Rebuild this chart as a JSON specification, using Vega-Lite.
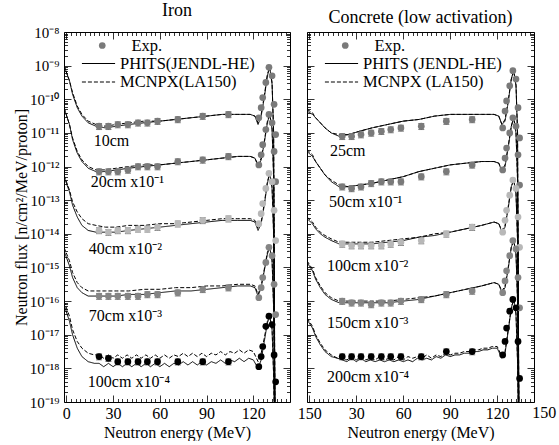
{
"$schema": "https://vega.github.io/schema/vega-lite/v6.json",
"padding": {"left": 12, "top": 1, "right": 2, "bottom": 0},
"config": {
  "font": "Liberation Serif",
  "view": {"stroke": "black", "strokeWidth": 1},
  "axis": {"grid": false, "domain": false, "tickColor": "black", "tickWidth": 0.8, "labelColor": "black", "titleColor": "black", "labelFont": "Liberation Serif", "titleFont": "Liberation Serif", "labelFontSize": 16, "titleFontSize": 16, "titleFontWeight": "normal", "labelOverlap": false, "labelFlush": false, "labelBound": false},
  "legend": {"labelFont": "Liberation Serif", "labelColor": "black", "labelFontSize": 16.5, "padding": 0, "clipHeight": 15, "rowPadding": 1.5},
  "title": {"font": "Liberation Serif", "fontSize": 18, "fontWeight": "normal", "color": "black", "anchor": "middle", "frame": "group", "offset": 5},
  "text": {"font": "Liberation Serif", "fontSize": 16, "color": "black"}
},
"datasets": {
"lines": [
{"panel":"Iron","depth":1,"code":"PHITS","E":-1.5,"flux":1e-9},{"panel":"Iron","depth":1,"code":"PHITS","E":2,"flux":3.55e-10},{"panel":"Iron","depth":1,"code":"PHITS","E":4,"flux":1.41e-10},{"panel":"Iron","depth":1,"code":"PHITS","E":7,"flux":5.62e-11},{"panel":"Iron","depth":1,"code":"PHITS","E":10,"flux":3.16e-11},{"panel":"Iron","depth":1,"code":"PHITS","E":14,"flux":2.0e-11},{"panel":"Iron","depth":1,"code":"PHITS","E":19,"flux":1.58e-11},{"panel":"Iron","depth":1,"code":"PHITS","E":25,"flux":1.41e-11},{"panel":"Iron","depth":1,"code":"PHITS","E":32,"flux":1.58e-11},{"panel":"Iron","depth":1,"code":"PHITS","E":40,"flux":1.78e-11},{"panel":"Iron","depth":1,"code":"PHITS","E":50,"flux":2.0e-11},{"panel":"Iron","depth":1,"code":"PHITS","E":60,"flux":2.24e-11},{"panel":"Iron","depth":1,"code":"PHITS","E":70,"flux":2.51e-11},{"panel":"Iron","depth":1,"code":"PHITS","E":80,"flux":2.82e-11},{"panel":"Iron","depth":1,"code":"PHITS","E":90,"flux":3.16e-11},{"panel":"Iron","depth":1,"code":"PHITS","E":100,"flux":3.55e-11},{"panel":"Iron","depth":1,"code":"PHITS","E":110,"flux":3.55e-11},{"panel":"Iron","depth":1,"code":"PHITS","E":118,"flux":3.55e-11},{"panel":"Iron","depth":1,"code":"PHITS","E":121,"flux":3.16e-11},{"panel":"Iron","depth":1,"code":"PHITS","E":123,"flux":1.78e-11},{"panel":"Iron","depth":1,"code":"PHITS","E":125,"flux":3.16e-11},{"panel":"Iron","depth":1,"code":"PHITS","E":127,"flux":1.12e-10},{"panel":"Iron","depth":1,"code":"PHITS","E":129,"flux":5.01e-10},{"panel":"Iron","depth":1,"code":"PHITS","E":130.5,"flux":8.91e-10},{"panel":"Iron","depth":1,"code":"PHITS","E":132,"flux":2.82e-10},{"panel":"Iron","depth":1,"code":"PHITS","E":133,"flux":1e-11},{"panel":"Iron","depth":1,"code":"PHITS","E":134,"flux":1e-21},
{"panel":"Iron","depth":1,"code":"MCNPX","E":-1.5,"flux":1e-9},{"panel":"Iron","depth":1,"code":"MCNPX","E":2,"flux":3.55e-10},{"panel":"Iron","depth":1,"code":"MCNPX","E":4,"flux":1.58e-10},{"panel":"Iron","depth":1,"code":"MCNPX","E":7,"flux":6.31e-11},{"panel":"Iron","depth":1,"code":"MCNPX","E":10,"flux":3.55e-11},{"panel":"Iron","depth":1,"code":"MCNPX","E":14,"flux":2.24e-11},{"panel":"Iron","depth":1,"code":"MCNPX","E":19,"flux":1.78e-11},{"panel":"Iron","depth":1,"code":"MCNPX","E":25,"flux":1.58e-11},{"panel":"Iron","depth":1,"code":"MCNPX","E":32,"flux":1.78e-11},{"panel":"Iron","depth":1,"code":"MCNPX","E":40,"flux":2.0e-11},{"panel":"Iron","depth":1,"code":"MCNPX","E":50,"flux":2.24e-11},{"panel":"Iron","depth":1,"code":"MCNPX","E":60,"flux":2.24e-11},{"panel":"Iron","depth":1,"code":"MCNPX","E":70,"flux":2.51e-11},{"panel":"Iron","depth":1,"code":"MCNPX","E":80,"flux":2.82e-11},{"panel":"Iron","depth":1,"code":"MCNPX","E":90,"flux":3.16e-11},{"panel":"Iron","depth":1,"code":"MCNPX","E":100,"flux":3.55e-11},{"panel":"Iron","depth":1,"code":"MCNPX","E":110,"flux":3.55e-11},{"panel":"Iron","depth":1,"code":"MCNPX","E":118,"flux":3.55e-11},{"panel":"Iron","depth":1,"code":"MCNPX","E":121,"flux":3.16e-11},{"panel":"Iron","depth":1,"code":"MCNPX","E":123,"flux":2.0e-11},{"panel":"Iron","depth":1,"code":"MCNPX","E":125,"flux":3.55e-11},{"panel":"Iron","depth":1,"code":"MCNPX","E":127,"flux":1.26e-10},{"panel":"Iron","depth":1,"code":"MCNPX","E":129,"flux":5.62e-10},{"panel":"Iron","depth":1,"code":"MCNPX","E":130.5,"flux":8.91e-10},{"panel":"Iron","depth":1,"code":"MCNPX","E":132,"flux":3.16e-10},{"panel":"Iron","depth":1,"code":"MCNPX","E":133,"flux":1e-11},{"panel":"Iron","depth":1,"code":"MCNPX","E":134,"flux":1e-21},
{"panel":"Iron","depth":2,"code":"PHITS","E":-1.5,"flux":5.62e-11},{"panel":"Iron","depth":2,"code":"PHITS","E":2,"flux":1.78e-11},{"panel":"Iron","depth":2,"code":"PHITS","E":4,"flux":6.31e-12},{"panel":"Iron","depth":2,"code":"PHITS","E":7,"flux":2.51e-12},{"panel":"Iron","depth":2,"code":"PHITS","E":10,"flux":1.41e-12},{"panel":"Iron","depth":2,"code":"PHITS","E":14,"flux":8.91e-13},{"panel":"Iron","depth":2,"code":"PHITS","E":19,"flux":7.08e-13},{"panel":"Iron","depth":2,"code":"PHITS","E":25,"flux":7.08e-13},{"panel":"Iron","depth":2,"code":"PHITS","E":32,"flux":7.94e-13},{"panel":"Iron","depth":2,"code":"PHITS","E":40,"flux":8.91e-13},{"panel":"Iron","depth":2,"code":"PHITS","E":50,"flux":1e-12},{"panel":"Iron","depth":2,"code":"PHITS","E":60,"flux":1.12e-12},{"panel":"Iron","depth":2,"code":"PHITS","E":70,"flux":1.26e-12},{"panel":"Iron","depth":2,"code":"PHITS","E":80,"flux":1.41e-12},{"panel":"Iron","depth":2,"code":"PHITS","E":90,"flux":1.58e-12},{"panel":"Iron","depth":2,"code":"PHITS","E":100,"flux":1.78e-12},{"panel":"Iron","depth":2,"code":"PHITS","E":110,"flux":2.0e-12},{"panel":"Iron","depth":2,"code":"PHITS","E":118,"flux":2.0e-12},{"panel":"Iron","depth":2,"code":"PHITS","E":121,"flux":1.78e-12},{"panel":"Iron","depth":2,"code":"PHITS","E":123,"flux":1e-12},{"panel":"Iron","depth":2,"code":"PHITS","E":125,"flux":1.58e-12},{"panel":"Iron","depth":2,"code":"PHITS","E":127,"flux":5.01e-12},{"panel":"Iron","depth":2,"code":"PHITS","E":129,"flux":2.0e-11},{"panel":"Iron","depth":2,"code":"PHITS","E":130.5,"flux":3.55e-11},{"panel":"Iron","depth":2,"code":"PHITS","E":132,"flux":1.26e-11},{"panel":"Iron","depth":2,"code":"PHITS","E":133,"flux":5.01e-13},{"panel":"Iron","depth":2,"code":"PHITS","E":134,"flux":1e-21},
{"panel":"Iron","depth":2,"code":"MCNPX","E":-1.5,"flux":5.62e-11},{"panel":"Iron","depth":2,"code":"MCNPX","E":2,"flux":1.78e-11},{"panel":"Iron","depth":2,"code":"MCNPX","E":4,"flux":7.08e-12},{"panel":"Iron","depth":2,"code":"MCNPX","E":7,"flux":2.82e-12},{"panel":"Iron","depth":2,"code":"MCNPX","E":10,"flux":1.58e-12},{"panel":"Iron","depth":2,"code":"MCNPX","E":14,"flux":1e-12},{"panel":"Iron","depth":2,"code":"MCNPX","E":19,"flux":7.94e-13},{"panel":"Iron","depth":2,"code":"MCNPX","E":25,"flux":7.94e-13},{"panel":"Iron","depth":2,"code":"MCNPX","E":32,"flux":8.91e-13},{"panel":"Iron","depth":2,"code":"MCNPX","E":40,"flux":1e-12},{"panel":"Iron","depth":2,"code":"MCNPX","E":50,"flux":1.12e-12},{"panel":"Iron","depth":2,"code":"MCNPX","E":60,"flux":1.12e-12},{"panel":"Iron","depth":2,"code":"MCNPX","E":70,"flux":1.26e-12},{"panel":"Iron","depth":2,"code":"MCNPX","E":80,"flux":1.41e-12},{"panel":"Iron","depth":2,"code":"MCNPX","E":90,"flux":1.58e-12},{"panel":"Iron","depth":2,"code":"MCNPX","E":100,"flux":1.78e-12},{"panel":"Iron","depth":2,"code":"MCNPX","E":110,"flux":2.0e-12},{"panel":"Iron","depth":2,"code":"MCNPX","E":118,"flux":2.0e-12},{"panel":"Iron","depth":2,"code":"MCNPX","E":121,"flux":1.78e-12},{"panel":"Iron","depth":2,"code":"MCNPX","E":123,"flux":1.12e-12},{"panel":"Iron","depth":2,"code":"MCNPX","E":125,"flux":1.78e-12},{"panel":"Iron","depth":2,"code":"MCNPX","E":127,"flux":5.62e-12},{"panel":"Iron","depth":2,"code":"MCNPX","E":129,"flux":2.24e-11},{"panel":"Iron","depth":2,"code":"MCNPX","E":130.5,"flux":3.55e-11},{"panel":"Iron","depth":2,"code":"MCNPX","E":132,"flux":1.41e-11},{"panel":"Iron","depth":2,"code":"MCNPX","E":133,"flux":5.01e-13},{"panel":"Iron","depth":2,"code":"MCNPX","E":134,"flux":1e-21},
{"panel":"Iron","depth":3,"code":"PHITS","E":-1.5,"flux":5.01e-13},{"panel":"Iron","depth":3,"code":"PHITS","E":2,"flux":1.78e-13},{"panel":"Iron","depth":3,"code":"PHITS","E":4,"flux":7.08e-14},{"panel":"Iron","depth":3,"code":"PHITS","E":7,"flux":3.16e-14},{"panel":"Iron","depth":3,"code":"PHITS","E":10,"flux":1.78e-14},{"panel":"Iron","depth":3,"code":"PHITS","E":14,"flux":1.26e-14},{"panel":"Iron","depth":3,"code":"PHITS","E":19,"flux":1.12e-14},{"panel":"Iron","depth":3,"code":"PHITS","E":25,"flux":1.12e-14},{"panel":"Iron","depth":3,"code":"PHITS","E":32,"flux":1.12e-14},{"panel":"Iron","depth":3,"code":"PHITS","E":40,"flux":1.26e-14},{"panel":"Iron","depth":3,"code":"PHITS","E":50,"flux":1.41e-14},{"panel":"Iron","depth":3,"code":"PHITS","E":60,"flux":1.58e-14},{"panel":"Iron","depth":3,"code":"PHITS","E":70,"flux":1.78e-14},{"panel":"Iron","depth":3,"code":"PHITS","E":80,"flux":2.0e-14},{"panel":"Iron","depth":3,"code":"PHITS","E":90,"flux":2.24e-14},{"panel":"Iron","depth":3,"code":"PHITS","E":100,"flux":2.51e-14},{"panel":"Iron","depth":3,"code":"PHITS","E":110,"flux":2.51e-14},{"panel":"Iron","depth":3,"code":"PHITS","E":118,"flux":2.51e-14},{"panel":"Iron","depth":3,"code":"PHITS","E":121,"flux":2.24e-14},{"panel":"Iron","depth":3,"code":"PHITS","E":123,"flux":1.26e-14},{"panel":"Iron","depth":3,"code":"PHITS","E":125,"flux":2.0e-14},{"panel":"Iron","depth":3,"code":"PHITS","E":127,"flux":7.08e-14},{"panel":"Iron","depth":3,"code":"PHITS","E":129,"flux":3.16e-13},{"panel":"Iron","depth":3,"code":"PHITS","E":130.5,"flux":6.31e-13},{"panel":"Iron","depth":3,"code":"PHITS","E":132,"flux":2.24e-13},{"panel":"Iron","depth":3,"code":"PHITS","E":133,"flux":1e-14},{"panel":"Iron","depth":3,"code":"PHITS","E":134,"flux":1e-21},
{"panel":"Iron","depth":3,"code":"MCNPX","E":-1.5,"flux":5.62e-13},{"panel":"Iron","depth":3,"code":"MCNPX","E":2,"flux":2.0e-13},{"panel":"Iron","depth":3,"code":"MCNPX","E":4,"flux":8.91e-14},{"panel":"Iron","depth":3,"code":"MCNPX","E":7,"flux":4.47e-14},{"panel":"Iron","depth":3,"code":"MCNPX","E":10,"flux":2.82e-14},{"panel":"Iron","depth":3,"code":"MCNPX","E":14,"flux":2.0e-14},{"panel":"Iron","depth":3,"code":"MCNPX","E":19,"flux":1.78e-14},{"panel":"Iron","depth":3,"code":"MCNPX","E":25,"flux":1.58e-14},{"panel":"Iron","depth":3,"code":"MCNPX","E":32,"flux":1.58e-14},{"panel":"Iron","depth":3,"code":"MCNPX","E":40,"flux":1.78e-14},{"panel":"Iron","depth":3,"code":"MCNPX","E":50,"flux":1.78e-14},{"panel":"Iron","depth":3,"code":"MCNPX","E":60,"flux":2.0e-14},{"panel":"Iron","depth":3,"code":"MCNPX","E":70,"flux":2.0e-14},{"panel":"Iron","depth":3,"code":"MCNPX","E":80,"flux":2.24e-14},{"panel":"Iron","depth":3,"code":"MCNPX","E":90,"flux":2.51e-14},{"panel":"Iron","depth":3,"code":"MCNPX","E":100,"flux":2.82e-14},{"panel":"Iron","depth":3,"code":"MCNPX","E":110,"flux":2.82e-14},{"panel":"Iron","depth":3,"code":"MCNPX","E":118,"flux":2.82e-14},{"panel":"Iron","depth":3,"code":"MCNPX","E":121,"flux":2.51e-14},{"panel":"Iron","depth":3,"code":"MCNPX","E":123,"flux":1.41e-14},{"panel":"Iron","depth":3,"code":"MCNPX","E":125,"flux":2.24e-14},{"panel":"Iron","depth":3,"code":"MCNPX","E":127,"flux":7.94e-14},{"panel":"Iron","depth":3,"code":"MCNPX","E":129,"flux":3.55e-13},{"panel":"Iron","depth":3,"code":"MCNPX","E":130.5,"flux":6.31e-13},{"panel":"Iron","depth":3,"code":"MCNPX","E":132,"flux":2.51e-13},{"panel":"Iron","depth":3,"code":"MCNPX","E":133,"flux":1e-14},{"panel":"Iron","depth":3,"code":"MCNPX","E":134,"flux":1e-21},
{"panel":"Iron","depth":4,"code":"PHITS","E":-1.5,"flux":3.16e-15},{"panel":"Iron","depth":4,"code":"PHITS","E":2,"flux":1.12e-15},{"panel":"Iron","depth":4,"code":"PHITS","E":4,"flux":5.01e-16},{"panel":"Iron","depth":4,"code":"PHITS","E":7,"flux":2.51e-16},{"panel":"Iron","depth":4,"code":"PHITS","E":10,"flux":1.78e-16},{"panel":"Iron","depth":4,"code":"PHITS","E":14,"flux":1.41e-16},{"panel":"Iron","depth":4,"code":"PHITS","E":19,"flux":1.41e-16},{"panel":"Iron","depth":4,"code":"PHITS","E":25,"flux":1.41e-16},{"panel":"Iron","depth":4,"code":"PHITS","E":32,"flux":1.41e-16},{"panel":"Iron","depth":4,"code":"PHITS","E":40,"flux":1.58e-16},{"panel":"Iron","depth":4,"code":"PHITS","E":50,"flux":1.58e-16},{"panel":"Iron","depth":4,"code":"PHITS","E":60,"flux":1.78e-16},{"panel":"Iron","depth":4,"code":"PHITS","E":70,"flux":2.0e-16},{"panel":"Iron","depth":4,"code":"PHITS","E":80,"flux":2.0e-16},{"panel":"Iron","depth":4,"code":"PHITS","E":90,"flux":2.24e-16},{"panel":"Iron","depth":4,"code":"PHITS","E":100,"flux":2.51e-16},{"panel":"Iron","depth":4,"code":"PHITS","E":110,"flux":2.82e-16},{"panel":"Iron","depth":4,"code":"PHITS","E":118,"flux":2.82e-16},{"panel":"Iron","depth":4,"code":"PHITS","E":121,"flux":2.51e-16},{"panel":"Iron","depth":4,"code":"PHITS","E":123,"flux":1.41e-16},{"panel":"Iron","depth":4,"code":"PHITS","E":125,"flux":2.51e-16},{"panel":"Iron","depth":4,"code":"PHITS","E":127,"flux":7.94e-16},{"panel":"Iron","depth":4,"code":"PHITS","E":129,"flux":2.51e-15},{"panel":"Iron","depth":4,"code":"PHITS","E":130.5,"flux":3.98e-15},{"panel":"Iron","depth":4,"code":"PHITS","E":132,"flux":1.58e-15},{"panel":"Iron","depth":4,"code":"PHITS","E":133,"flux":6.31e-17},{"panel":"Iron","depth":4,"code":"PHITS","E":134,"flux":1e-21},
{"panel":"Iron","depth":4,"code":"MCNPX","E":-1.5,"flux":3.98e-15},{"panel":"Iron","depth":4,"code":"MCNPX","E":2,"flux":1.58e-15},{"panel":"Iron","depth":4,"code":"MCNPX","E":4,"flux":7.08e-16},{"panel":"Iron","depth":4,"code":"MCNPX","E":7,"flux":3.55e-16},{"panel":"Iron","depth":4,"code":"MCNPX","E":10,"flux":2.51e-16},{"panel":"Iron","depth":4,"code":"MCNPX","E":14,"flux":2.0e-16},{"panel":"Iron","depth":4,"code":"MCNPX","E":19,"flux":2.0e-16},{"panel":"Iron","depth":4,"code":"MCNPX","E":25,"flux":2.0e-16},{"panel":"Iron","depth":4,"code":"MCNPX","E":32,"flux":2.0e-16},{"panel":"Iron","depth":4,"code":"MCNPX","E":40,"flux":2.0e-16},{"panel":"Iron","depth":4,"code":"MCNPX","E":50,"flux":2.24e-16},{"panel":"Iron","depth":4,"code":"MCNPX","E":60,"flux":2.24e-16},{"panel":"Iron","depth":4,"code":"MCNPX","E":70,"flux":2.51e-16},{"panel":"Iron","depth":4,"code":"MCNPX","E":80,"flux":2.51e-16},{"panel":"Iron","depth":4,"code":"MCNPX","E":90,"flux":2.82e-16},{"panel":"Iron","depth":4,"code":"MCNPX","E":100,"flux":2.82e-16},{"panel":"Iron","depth":4,"code":"MCNPX","E":110,"flux":3.16e-16},{"panel":"Iron","depth":4,"code":"MCNPX","E":118,"flux":3.16e-16},{"panel":"Iron","depth":4,"code":"MCNPX","E":121,"flux":2.82e-16},{"panel":"Iron","depth":4,"code":"MCNPX","E":123,"flux":1.58e-16},{"panel":"Iron","depth":4,"code":"MCNPX","E":125,"flux":2.82e-16},{"panel":"Iron","depth":4,"code":"MCNPX","E":127,"flux":8.91e-16},{"panel":"Iron","depth":4,"code":"MCNPX","E":129,"flux":2.82e-15},{"panel":"Iron","depth":4,"code":"MCNPX","E":130.5,"flux":3.98e-15},{"panel":"Iron","depth":4,"code":"MCNPX","E":132,"flux":1.78e-15},{"panel":"Iron","depth":4,"code":"MCNPX","E":133,"flux":6.31e-17},{"panel":"Iron","depth":4,"code":"MCNPX","E":134,"flux":1e-21},
{"panel":"Iron","depth":5,"code":"PHITS","E":-1.5,"flux":7.94e-17},{"panel":"Iron","depth":5,"code":"PHITS","E":2,"flux":2.51e-17},{"panel":"Iron","depth":5,"code":"PHITS","E":4,"flux":1e-17},{"panel":"Iron","depth":5,"code":"PHITS","E":7,"flux":3.98e-18},{"panel":"Iron","depth":5,"code":"PHITS","E":10,"flux":2.24e-18},{"panel":"Iron","depth":5,"code":"PHITS","E":14,"flux":1.58e-18},{"panel":"Iron","depth":5,"code":"PHITS","E":18,"flux":1.41e-18},{"panel":"Iron","depth":5,"code":"PHITS","E":21,"flux":1.41e-18},{"panel":"Iron","depth":5,"code":"PHITS","E":24,"flux":1.12e-18},{"panel":"Iron","depth":5,"code":"PHITS","E":27,"flux":1.41e-18},{"panel":"Iron","depth":5,"code":"PHITS","E":30,"flux":1.12e-18},{"panel":"Iron","depth":5,"code":"PHITS","E":33,"flux":1.41e-18},{"panel":"Iron","depth":5,"code":"PHITS","E":36,"flux":1.12e-18},{"panel":"Iron","depth":5,"code":"PHITS","E":39,"flux":1.41e-18},{"panel":"Iron","depth":5,"code":"PHITS","E":42,"flux":1.12e-18},{"panel":"Iron","depth":5,"code":"PHITS","E":45,"flux":1.41e-18},{"panel":"Iron","depth":5,"code":"PHITS","E":48,"flux":1.12e-18},{"panel":"Iron","depth":5,"code":"PHITS","E":51,"flux":1.41e-18},{"panel":"Iron","depth":5,"code":"PHITS","E":54,"flux":1.12e-18},{"panel":"Iron","depth":5,"code":"PHITS","E":57,"flux":1.41e-18},{"panel":"Iron","depth":5,"code":"PHITS","E":60,"flux":1.12e-18},{"panel":"Iron","depth":5,"code":"PHITS","E":63,"flux":1.41e-18},{"panel":"Iron","depth":5,"code":"PHITS","E":66,"flux":1.12e-18},{"panel":"Iron","depth":5,"code":"PHITS","E":69,"flux":1.41e-18},{"panel":"Iron","depth":5,"code":"PHITS","E":72,"flux":1.26e-18},{"panel":"Iron","depth":5,"code":"PHITS","E":75,"flux":1.58e-18},{"panel":"Iron","depth":5,"code":"PHITS","E":78,"flux":1.26e-18},{"panel":"Iron","depth":5,"code":"PHITS","E":81,"flux":1.58e-18},{"panel":"Iron","depth":5,"code":"PHITS","E":84,"flux":1.26e-18},{"panel":"Iron","depth":5,"code":"PHITS","E":87,"flux":1.58e-18},{"panel":"Iron","depth":5,"code":"PHITS","E":90,"flux":1.26e-18},{"panel":"Iron","depth":5,"code":"PHITS","E":93,"flux":1.58e-18},{"panel":"Iron","depth":5,"code":"PHITS","E":96,"flux":1.41e-18},{"panel":"Iron","depth":5,"code":"PHITS","E":99,"flux":1.78e-18},{"panel":"Iron","depth":5,"code":"PHITS","E":102,"flux":1.41e-18},{"panel":"Iron","depth":5,"code":"PHITS","E":105,"flux":1.78e-18},{"panel":"Iron","depth":5,"code":"PHITS","E":108,"flux":1.58e-18},{"panel":"Iron","depth":5,"code":"PHITS","E":111,"flux":2.0e-18},{"panel":"Iron","depth":5,"code":"PHITS","E":114,"flux":1.58e-18},{"panel":"Iron","depth":5,"code":"PHITS","E":117,"flux":2.0e-18},{"panel":"Iron","depth":5,"code":"PHITS","E":120,"flux":1.78e-18},{"panel":"Iron","depth":5,"code":"PHITS","E":123,"flux":1e-18},{"panel":"Iron","depth":5,"code":"PHITS","E":125,"flux":1.78e-18},{"panel":"Iron","depth":5,"code":"PHITS","E":127,"flux":6.31e-18},{"panel":"Iron","depth":5,"code":"PHITS","E":129,"flux":2.24e-17},{"panel":"Iron","depth":5,"code":"PHITS","E":130.5,"flux":3.55e-17},{"panel":"Iron","depth":5,"code":"PHITS","E":132,"flux":1.41e-17},{"panel":"Iron","depth":5,"code":"PHITS","E":133,"flux":6.31e-19},{"panel":"Iron","depth":5,"code":"PHITS","E":134,"flux":1e-21},
{"panel":"Iron","depth":5,"code":"MCNPX","E":-1.5,"flux":1e-16},{"panel":"Iron","depth":5,"code":"MCNPX","E":2,"flux":3.55e-17},{"panel":"Iron","depth":5,"code":"MCNPX","E":4,"flux":1.41e-17},{"panel":"Iron","depth":5,"code":"MCNPX","E":7,"flux":6.31e-18},{"panel":"Iron","depth":5,"code":"MCNPX","E":10,"flux":3.98e-18},{"panel":"Iron","depth":5,"code":"MCNPX","E":14,"flux":2.82e-18},{"panel":"Iron","depth":5,"code":"MCNPX","E":18,"flux":2.51e-18},{"panel":"Iron","depth":5,"code":"MCNPX","E":21,"flux":2.51e-18},{"panel":"Iron","depth":5,"code":"MCNPX","E":24,"flux":2.0e-18},{"panel":"Iron","depth":5,"code":"MCNPX","E":27,"flux":2.51e-18},{"panel":"Iron","depth":5,"code":"MCNPX","E":30,"flux":2.0e-18},{"panel":"Iron","depth":5,"code":"MCNPX","E":33,"flux":2.51e-18},{"panel":"Iron","depth":5,"code":"MCNPX","E":36,"flux":2.0e-18},{"panel":"Iron","depth":5,"code":"MCNPX","E":39,"flux":2.51e-18},{"panel":"Iron","depth":5,"code":"MCNPX","E":42,"flux":2.0e-18},{"panel":"Iron","depth":5,"code":"MCNPX","E":45,"flux":2.51e-18},{"panel":"Iron","depth":5,"code":"MCNPX","E":48,"flux":2.0e-18},{"panel":"Iron","depth":5,"code":"MCNPX","E":51,"flux":2.51e-18},{"panel":"Iron","depth":5,"code":"MCNPX","E":54,"flux":2.0e-18},{"panel":"Iron","depth":5,"code":"MCNPX","E":57,"flux":2.51e-18},{"panel":"Iron","depth":5,"code":"MCNPX","E":60,"flux":2.0e-18},{"panel":"Iron","depth":5,"code":"MCNPX","E":63,"flux":2.51e-18},{"panel":"Iron","depth":5,"code":"MCNPX","E":66,"flux":2.0e-18},{"panel":"Iron","depth":5,"code":"MCNPX","E":69,"flux":2.51e-18},{"panel":"Iron","depth":5,"code":"MCNPX","E":72,"flux":2.24e-18},{"panel":"Iron","depth":5,"code":"MCNPX","E":75,"flux":2.82e-18},{"panel":"Iron","depth":5,"code":"MCNPX","E":78,"flux":2.24e-18},{"panel":"Iron","depth":5,"code":"MCNPX","E":81,"flux":2.82e-18},{"panel":"Iron","depth":5,"code":"MCNPX","E":84,"flux":2.24e-18},{"panel":"Iron","depth":5,"code":"MCNPX","E":87,"flux":2.82e-18},{"panel":"Iron","depth":5,"code":"MCNPX","E":90,"flux":2.24e-18},{"panel":"Iron","depth":5,"code":"MCNPX","E":93,"flux":2.82e-18},{"panel":"Iron","depth":5,"code":"MCNPX","E":96,"flux":2.51e-18},{"panel":"Iron","depth":5,"code":"MCNPX","E":99,"flux":3.16e-18},{"panel":"Iron","depth":5,"code":"MCNPX","E":102,"flux":2.51e-18},{"panel":"Iron","depth":5,"code":"MCNPX","E":105,"flux":3.16e-18},{"panel":"Iron","depth":5,"code":"MCNPX","E":108,"flux":2.82e-18},{"panel":"Iron","depth":5,"code":"MCNPX","E":111,"flux":3.55e-18},{"panel":"Iron","depth":5,"code":"MCNPX","E":114,"flux":2.82e-18},{"panel":"Iron","depth":5,"code":"MCNPX","E":117,"flux":3.55e-18},{"panel":"Iron","depth":5,"code":"MCNPX","E":120,"flux":3.16e-18},{"panel":"Iron","depth":5,"code":"MCNPX","E":123,"flux":1.58e-18},{"panel":"Iron","depth":5,"code":"MCNPX","E":125,"flux":2.82e-18},{"panel":"Iron","depth":5,"code":"MCNPX","E":127,"flux":7.94e-18},{"panel":"Iron","depth":5,"code":"MCNPX","E":129,"flux":2.51e-17},{"panel":"Iron","depth":5,"code":"MCNPX","E":130.5,"flux":3.55e-17},{"panel":"Iron","depth":5,"code":"MCNPX","E":132,"flux":1.58e-17},{"panel":"Iron","depth":5,"code":"MCNPX","E":133,"flux":6.31e-19},{"panel":"Iron","depth":5,"code":"MCNPX","E":134,"flux":1e-21},
{"panel":"Concrete","depth":1,"code":"PHITS","E":-1.5,"flux":4.47e-11},{"panel":"Concrete","depth":1,"code":"PHITS","E":2,"flux":3.55e-11},{"panel":"Concrete","depth":1,"code":"PHITS","E":4,"flux":2.82e-11},{"panel":"Concrete","depth":1,"code":"PHITS","E":7,"flux":2.0e-11},{"panel":"Concrete","depth":1,"code":"PHITS","E":10,"flux":1.41e-11},{"panel":"Concrete","depth":1,"code":"PHITS","E":14,"flux":1e-11},{"panel":"Concrete","depth":1,"code":"PHITS","E":19,"flux":7.94e-12},{"panel":"Concrete","depth":1,"code":"PHITS","E":25,"flux":8.91e-12},{"panel":"Concrete","depth":1,"code":"PHITS","E":32,"flux":1.12e-11},{"panel":"Concrete","depth":1,"code":"PHITS","E":40,"flux":1.41e-11},{"panel":"Concrete","depth":1,"code":"PHITS","E":50,"flux":1.78e-11},{"panel":"Concrete","depth":1,"code":"PHITS","E":60,"flux":2.24e-11},{"panel":"Concrete","depth":1,"code":"PHITS","E":70,"flux":2.51e-11},{"panel":"Concrete","depth":1,"code":"PHITS","E":80,"flux":3.16e-11},{"panel":"Concrete","depth":1,"code":"PHITS","E":90,"flux":3.55e-11},{"panel":"Concrete","depth":1,"code":"PHITS","E":100,"flux":3.55e-11},{"panel":"Concrete","depth":1,"code":"PHITS","E":110,"flux":3.55e-11},{"panel":"Concrete","depth":1,"code":"PHITS","E":118,"flux":3.55e-11},{"panel":"Concrete","depth":1,"code":"PHITS","E":121,"flux":3.16e-11},{"panel":"Concrete","depth":1,"code":"PHITS","E":123,"flux":1.78e-11},{"panel":"Concrete","depth":1,"code":"PHITS","E":125,"flux":2.24e-11},{"panel":"Concrete","depth":1,"code":"PHITS","E":127,"flux":7.94e-11},{"panel":"Concrete","depth":1,"code":"PHITS","E":129,"flux":3.98e-10},{"panel":"Concrete","depth":1,"code":"PHITS","E":130.5,"flux":7.08e-10},{"panel":"Concrete","depth":1,"code":"PHITS","E":132,"flux":2.51e-10},{"panel":"Concrete","depth":1,"code":"PHITS","E":133,"flux":1e-11},{"panel":"Concrete","depth":1,"code":"PHITS","E":134,"flux":1e-21},
{"panel":"Concrete","depth":1,"code":"MCNPX","E":-1.5,"flux":5.01e-11},{"panel":"Concrete","depth":1,"code":"MCNPX","E":2,"flux":3.98e-11},{"panel":"Concrete","depth":1,"code":"MCNPX","E":4,"flux":2.82e-11},{"panel":"Concrete","depth":1,"code":"MCNPX","E":7,"flux":2.0e-11},{"panel":"Concrete","depth":1,"code":"MCNPX","E":10,"flux":1.41e-11},{"panel":"Concrete","depth":1,"code":"MCNPX","E":14,"flux":1e-11},{"panel":"Concrete","depth":1,"code":"MCNPX","E":19,"flux":8.91e-12},{"panel":"Concrete","depth":1,"code":"MCNPX","E":25,"flux":8.91e-12},{"panel":"Concrete","depth":1,"code":"MCNPX","E":32,"flux":1.12e-11},{"panel":"Concrete","depth":1,"code":"MCNPX","E":40,"flux":1.41e-11},{"panel":"Concrete","depth":1,"code":"MCNPX","E":50,"flux":1.78e-11},{"panel":"Concrete","depth":1,"code":"MCNPX","E":60,"flux":2.24e-11},{"panel":"Concrete","depth":1,"code":"MCNPX","E":70,"flux":2.51e-11},{"panel":"Concrete","depth":1,"code":"MCNPX","E":80,"flux":3.16e-11},{"panel":"Concrete","depth":1,"code":"MCNPX","E":90,"flux":3.55e-11},{"panel":"Concrete","depth":1,"code":"MCNPX","E":100,"flux":3.55e-11},{"panel":"Concrete","depth":1,"code":"MCNPX","E":110,"flux":3.55e-11},{"panel":"Concrete","depth":1,"code":"MCNPX","E":118,"flux":3.55e-11},{"panel":"Concrete","depth":1,"code":"MCNPX","E":121,"flux":3.16e-11},{"panel":"Concrete","depth":1,"code":"MCNPX","E":123,"flux":1.78e-11},{"panel":"Concrete","depth":1,"code":"MCNPX","E":125,"flux":2.51e-11},{"panel":"Concrete","depth":1,"code":"MCNPX","E":127,"flux":8.91e-11},{"panel":"Concrete","depth":1,"code":"MCNPX","E":129,"flux":3.98e-10},{"panel":"Concrete","depth":1,"code":"MCNPX","E":130.5,"flux":7.08e-10},{"panel":"Concrete","depth":1,"code":"MCNPX","E":132,"flux":2.82e-10},{"panel":"Concrete","depth":1,"code":"MCNPX","E":133,"flux":1e-11},{"panel":"Concrete","depth":1,"code":"MCNPX","E":134,"flux":1e-21},
{"panel":"Concrete","depth":2,"code":"PHITS","E":-1.5,"flux":2.82e-12},{"panel":"Concrete","depth":2,"code":"PHITS","E":2,"flux":2.0e-12},{"panel":"Concrete","depth":2,"code":"PHITS","E":4,"flux":1.41e-12},{"panel":"Concrete","depth":2,"code":"PHITS","E":7,"flux":8.91e-13},{"panel":"Concrete","depth":2,"code":"PHITS","E":10,"flux":5.62e-13},{"panel":"Concrete","depth":2,"code":"PHITS","E":14,"flux":3.55e-13},{"panel":"Concrete","depth":2,"code":"PHITS","E":19,"flux":2.51e-13},{"panel":"Concrete","depth":2,"code":"PHITS","E":25,"flux":2.51e-13},{"panel":"Concrete","depth":2,"code":"PHITS","E":32,"flux":2.82e-13},{"panel":"Concrete","depth":2,"code":"PHITS","E":40,"flux":3.16e-13},{"panel":"Concrete","depth":2,"code":"PHITS","E":50,"flux":3.98e-13},{"panel":"Concrete","depth":2,"code":"PHITS","E":60,"flux":5.01e-13},{"panel":"Concrete","depth":2,"code":"PHITS","E":70,"flux":7.08e-13},{"panel":"Concrete","depth":2,"code":"PHITS","E":80,"flux":8.91e-13},{"panel":"Concrete","depth":2,"code":"PHITS","E":90,"flux":1.12e-12},{"panel":"Concrete","depth":2,"code":"PHITS","E":100,"flux":1.26e-12},{"panel":"Concrete","depth":2,"code":"PHITS","E":110,"flux":1.41e-12},{"panel":"Concrete","depth":2,"code":"PHITS","E":118,"flux":1.41e-12},{"panel":"Concrete","depth":2,"code":"PHITS","E":121,"flux":1.26e-12},{"panel":"Concrete","depth":2,"code":"PHITS","E":123,"flux":7.08e-13},{"panel":"Concrete","depth":2,"code":"PHITS","E":125,"flux":1e-12},{"panel":"Concrete","depth":2,"code":"PHITS","E":127,"flux":3.55e-12},{"panel":"Concrete","depth":2,"code":"PHITS","E":129,"flux":1.58e-11},{"panel":"Concrete","depth":2,"code":"PHITS","E":130.5,"flux":2.82e-11},{"panel":"Concrete","depth":2,"code":"PHITS","E":132,"flux":1e-11},{"panel":"Concrete","depth":2,"code":"PHITS","E":133,"flux":3.98e-13},{"panel":"Concrete","depth":2,"code":"PHITS","E":134,"flux":1e-21},
{"panel":"Concrete","depth":2,"code":"MCNPX","E":-1.5,"flux":3.16e-12},{"panel":"Concrete","depth":2,"code":"MCNPX","E":2,"flux":2.24e-12},{"panel":"Concrete","depth":2,"code":"MCNPX","E":4,"flux":1.41e-12},{"panel":"Concrete","depth":2,"code":"MCNPX","E":7,"flux":8.91e-13},{"panel":"Concrete","depth":2,"code":"MCNPX","E":10,"flux":5.62e-13},{"panel":"Concrete","depth":2,"code":"MCNPX","E":14,"flux":3.98e-13},{"panel":"Concrete","depth":2,"code":"MCNPX","E":19,"flux":2.82e-13},{"panel":"Concrete","depth":2,"code":"MCNPX","E":25,"flux":2.51e-13},{"panel":"Concrete","depth":2,"code":"MCNPX","E":32,"flux":2.82e-13},{"panel":"Concrete","depth":2,"code":"MCNPX","E":40,"flux":3.16e-13},{"panel":"Concrete","depth":2,"code":"MCNPX","E":50,"flux":3.98e-13},{"panel":"Concrete","depth":2,"code":"MCNPX","E":60,"flux":5.01e-13},{"panel":"Concrete","depth":2,"code":"MCNPX","E":70,"flux":7.08e-13},{"panel":"Concrete","depth":2,"code":"MCNPX","E":80,"flux":8.91e-13},{"panel":"Concrete","depth":2,"code":"MCNPX","E":90,"flux":1.12e-12},{"panel":"Concrete","depth":2,"code":"MCNPX","E":100,"flux":1.26e-12},{"panel":"Concrete","depth":2,"code":"MCNPX","E":110,"flux":1.41e-12},{"panel":"Concrete","depth":2,"code":"MCNPX","E":118,"flux":1.41e-12},{"panel":"Concrete","depth":2,"code":"MCNPX","E":121,"flux":1.26e-12},{"panel":"Concrete","depth":2,"code":"MCNPX","E":123,"flux":7.94e-13},{"panel":"Concrete","depth":2,"code":"MCNPX","E":125,"flux":1.12e-12},{"panel":"Concrete","depth":2,"code":"MCNPX","E":127,"flux":3.98e-12},{"panel":"Concrete","depth":2,"code":"MCNPX","E":129,"flux":1.58e-11},{"panel":"Concrete","depth":2,"code":"MCNPX","E":130.5,"flux":2.82e-11},{"panel":"Concrete","depth":2,"code":"MCNPX","E":132,"flux":1.12e-11},{"panel":"Concrete","depth":2,"code":"MCNPX","E":133,"flux":3.98e-13},{"panel":"Concrete","depth":2,"code":"MCNPX","E":134,"flux":1e-21},
{"panel":"Concrete","depth":3,"code":"PHITS","E":-1.5,"flux":2.82e-14},{"panel":"Concrete","depth":3,"code":"PHITS","E":2,"flux":2.0e-14},{"panel":"Concrete","depth":3,"code":"PHITS","E":4,"flux":1.41e-14},{"panel":"Concrete","depth":3,"code":"PHITS","E":7,"flux":1e-14},{"panel":"Concrete","depth":3,"code":"PHITS","E":10,"flux":7.94e-15},{"panel":"Concrete","depth":3,"code":"PHITS","E":14,"flux":6.31e-15},{"panel":"Concrete","depth":3,"code":"PHITS","E":19,"flux":5.01e-15},{"panel":"Concrete","depth":3,"code":"PHITS","E":25,"flux":5.01e-15},{"panel":"Concrete","depth":3,"code":"PHITS","E":32,"flux":5.01e-15},{"panel":"Concrete","depth":3,"code":"PHITS","E":40,"flux":5.01e-15},{"panel":"Concrete","depth":3,"code":"PHITS","E":50,"flux":5.62e-15},{"panel":"Concrete","depth":3,"code":"PHITS","E":60,"flux":6.31e-15},{"panel":"Concrete","depth":3,"code":"PHITS","E":70,"flux":7.94e-15},{"panel":"Concrete","depth":3,"code":"PHITS","E":80,"flux":8.91e-15},{"panel":"Concrete","depth":3,"code":"PHITS","E":90,"flux":1.12e-14},{"panel":"Concrete","depth":3,"code":"PHITS","E":100,"flux":1.41e-14},{"panel":"Concrete","depth":3,"code":"PHITS","E":110,"flux":1.78e-14},{"panel":"Concrete","depth":3,"code":"PHITS","E":118,"flux":2.24e-14},{"panel":"Concrete","depth":3,"code":"PHITS","E":121,"flux":2.0e-14},{"panel":"Concrete","depth":3,"code":"PHITS","E":123,"flux":1.12e-14},{"panel":"Concrete","depth":3,"code":"PHITS","E":125,"flux":1.58e-14},{"panel":"Concrete","depth":3,"code":"PHITS","E":127,"flux":5.62e-14},{"panel":"Concrete","depth":3,"code":"PHITS","E":129,"flux":2.51e-13},{"panel":"Concrete","depth":3,"code":"PHITS","E":130.5,"flux":3.98e-13},{"panel":"Concrete","depth":3,"code":"PHITS","E":132,"flux":1.58e-13},{"panel":"Concrete","depth":3,"code":"PHITS","E":133,"flux":6.31e-15},{"panel":"Concrete","depth":3,"code":"PHITS","E":134,"flux":1e-21},
{"panel":"Concrete","depth":3,"code":"MCNPX","E":-1.5,"flux":3.16e-14},{"panel":"Concrete","depth":3,"code":"MCNPX","E":2,"flux":2.24e-14},{"panel":"Concrete","depth":3,"code":"MCNPX","E":4,"flux":1.58e-14},{"panel":"Concrete","depth":3,"code":"MCNPX","E":7,"flux":1.12e-14},{"panel":"Concrete","depth":3,"code":"MCNPX","E":10,"flux":8.91e-15},{"panel":"Concrete","depth":3,"code":"MCNPX","E":14,"flux":7.08e-15},{"panel":"Concrete","depth":3,"code":"MCNPX","E":19,"flux":5.62e-15},{"panel":"Concrete","depth":3,"code":"MCNPX","E":25,"flux":5.62e-15},{"panel":"Concrete","depth":3,"code":"MCNPX","E":32,"flux":5.62e-15},{"panel":"Concrete","depth":3,"code":"MCNPX","E":40,"flux":5.62e-15},{"panel":"Concrete","depth":3,"code":"MCNPX","E":50,"flux":6.31e-15},{"panel":"Concrete","depth":3,"code":"MCNPX","E":60,"flux":7.08e-15},{"panel":"Concrete","depth":3,"code":"MCNPX","E":70,"flux":7.94e-15},{"panel":"Concrete","depth":3,"code":"MCNPX","E":80,"flux":1e-14},{"panel":"Concrete","depth":3,"code":"MCNPX","E":90,"flux":1.12e-14},{"panel":"Concrete","depth":3,"code":"MCNPX","E":100,"flux":1.41e-14},{"panel":"Concrete","depth":3,"code":"MCNPX","E":110,"flux":1.78e-14},{"panel":"Concrete","depth":3,"code":"MCNPX","E":118,"flux":2.24e-14},{"panel":"Concrete","depth":3,"code":"MCNPX","E":121,"flux":2.0e-14},{"panel":"Concrete","depth":3,"code":"MCNPX","E":123,"flux":1.26e-14},{"panel":"Concrete","depth":3,"code":"MCNPX","E":125,"flux":1.78e-14},{"panel":"Concrete","depth":3,"code":"MCNPX","E":127,"flux":6.31e-14},{"panel":"Concrete","depth":3,"code":"MCNPX","E":129,"flux":2.51e-13},{"panel":"Concrete","depth":3,"code":"MCNPX","E":130.5,"flux":3.98e-13},{"panel":"Concrete","depth":3,"code":"MCNPX","E":132,"flux":1.78e-13},{"panel":"Concrete","depth":3,"code":"MCNPX","E":133,"flux":6.31e-15},{"panel":"Concrete","depth":3,"code":"MCNPX","E":134,"flux":1e-21},
{"panel":"Concrete","depth":4,"code":"PHITS","E":-1.5,"flux":1.41e-15},{"panel":"Concrete","depth":4,"code":"PHITS","E":2,"flux":7.94e-16},{"panel":"Concrete","depth":4,"code":"PHITS","E":4,"flux":4.47e-16},{"panel":"Concrete","depth":4,"code":"PHITS","E":7,"flux":2.51e-16},{"panel":"Concrete","depth":4,"code":"PHITS","E":10,"flux":1.58e-16},{"panel":"Concrete","depth":4,"code":"PHITS","E":14,"flux":1.12e-16},{"panel":"Concrete","depth":4,"code":"PHITS","E":19,"flux":8.91e-17},{"panel":"Concrete","depth":4,"code":"PHITS","E":25,"flux":8.91e-17},{"panel":"Concrete","depth":4,"code":"PHITS","E":32,"flux":8.91e-17},{"panel":"Concrete","depth":4,"code":"PHITS","E":40,"flux":8.91e-17},{"panel":"Concrete","depth":4,"code":"PHITS","E":50,"flux":8.91e-17},{"panel":"Concrete","depth":4,"code":"PHITS","E":60,"flux":1e-16},{"panel":"Concrete","depth":4,"code":"PHITS","E":70,"flux":1.12e-16},{"panel":"Concrete","depth":4,"code":"PHITS","E":80,"flux":1.41e-16},{"panel":"Concrete","depth":4,"code":"PHITS","E":90,"flux":1.78e-16},{"panel":"Concrete","depth":4,"code":"PHITS","E":100,"flux":2.24e-16},{"panel":"Concrete","depth":4,"code":"PHITS","E":110,"flux":2.82e-16},{"panel":"Concrete","depth":4,"code":"PHITS","E":118,"flux":3.55e-16},{"panel":"Concrete","depth":4,"code":"PHITS","E":121,"flux":3.16e-16},{"panel":"Concrete","depth":4,"code":"PHITS","E":123,"flux":1.78e-16},{"panel":"Concrete","depth":4,"code":"PHITS","E":125,"flux":2.51e-16},{"panel":"Concrete","depth":4,"code":"PHITS","E":127,"flux":8.91e-16},{"panel":"Concrete","depth":4,"code":"PHITS","E":129,"flux":3.98e-15},{"panel":"Concrete","depth":4,"code":"PHITS","E":130.5,"flux":6.31e-15},{"panel":"Concrete","depth":4,"code":"PHITS","E":132,"flux":2.51e-15},{"panel":"Concrete","depth":4,"code":"PHITS","E":133,"flux":1e-16},{"panel":"Concrete","depth":4,"code":"PHITS","E":134,"flux":1e-21},
{"panel":"Concrete","depth":4,"code":"MCNPX","E":-1.5,"flux":1.58e-15},{"panel":"Concrete","depth":4,"code":"MCNPX","E":2,"flux":8.91e-16},{"panel":"Concrete","depth":4,"code":"MCNPX","E":4,"flux":5.01e-16},{"panel":"Concrete","depth":4,"code":"MCNPX","E":7,"flux":2.82e-16},{"panel":"Concrete","depth":4,"code":"MCNPX","E":10,"flux":1.78e-16},{"panel":"Concrete","depth":4,"code":"MCNPX","E":14,"flux":1.26e-16},{"panel":"Concrete","depth":4,"code":"MCNPX","E":19,"flux":1e-16},{"panel":"Concrete","depth":4,"code":"MCNPX","E":25,"flux":1e-16},{"panel":"Concrete","depth":4,"code":"MCNPX","E":32,"flux":1e-16},{"panel":"Concrete","depth":4,"code":"MCNPX","E":40,"flux":1e-16},{"panel":"Concrete","depth":4,"code":"MCNPX","E":50,"flux":1e-16},{"panel":"Concrete","depth":4,"code":"MCNPX","E":60,"flux":1.12e-16},{"panel":"Concrete","depth":4,"code":"MCNPX","E":70,"flux":1.26e-16},{"panel":"Concrete","depth":4,"code":"MCNPX","E":80,"flux":1.41e-16},{"panel":"Concrete","depth":4,"code":"MCNPX","E":90,"flux":1.78e-16},{"panel":"Concrete","depth":4,"code":"MCNPX","E":100,"flux":2.24e-16},{"panel":"Concrete","depth":4,"code":"MCNPX","E":110,"flux":2.82e-16},{"panel":"Concrete","depth":4,"code":"MCNPX","E":118,"flux":3.55e-16},{"panel":"Concrete","depth":4,"code":"MCNPX","E":121,"flux":3.16e-16},{"panel":"Concrete","depth":4,"code":"MCNPX","E":123,"flux":2.0e-16},{"panel":"Concrete","depth":4,"code":"MCNPX","E":125,"flux":2.82e-16},{"panel":"Concrete","depth":4,"code":"MCNPX","E":127,"flux":1e-15},{"panel":"Concrete","depth":4,"code":"MCNPX","E":129,"flux":3.98e-15},{"panel":"Concrete","depth":4,"code":"MCNPX","E":130.5,"flux":6.31e-15},{"panel":"Concrete","depth":4,"code":"MCNPX","E":132,"flux":2.82e-15},{"panel":"Concrete","depth":4,"code":"MCNPX","E":133,"flux":1e-16},{"panel":"Concrete","depth":4,"code":"MCNPX","E":134,"flux":1e-21},
{"panel":"Concrete","depth":5,"code":"PHITS","E":-1.5,"flux":2.82e-17},{"panel":"Concrete","depth":5,"code":"PHITS","E":2,"flux":1.58e-17},{"panel":"Concrete","depth":5,"code":"PHITS","E":4,"flux":8.91e-18},{"panel":"Concrete","depth":5,"code":"PHITS","E":7,"flux":5.01e-18},{"panel":"Concrete","depth":5,"code":"PHITS","E":10,"flux":3.16e-18},{"panel":"Concrete","depth":5,"code":"PHITS","E":14,"flux":2.24e-18},{"panel":"Concrete","depth":5,"code":"PHITS","E":18,"flux":2.0e-18},{"panel":"Concrete","depth":5,"code":"PHITS","E":21,"flux":1.78e-18},{"panel":"Concrete","depth":5,"code":"PHITS","E":24,"flux":1.58e-18},{"panel":"Concrete","depth":5,"code":"PHITS","E":27,"flux":2.0e-18},{"panel":"Concrete","depth":5,"code":"PHITS","E":30,"flux":1.58e-18},{"panel":"Concrete","depth":5,"code":"PHITS","E":33,"flux":2.0e-18},{"panel":"Concrete","depth":5,"code":"PHITS","E":36,"flux":1.58e-18},{"panel":"Concrete","depth":5,"code":"PHITS","E":39,"flux":1.78e-18},{"panel":"Concrete","depth":5,"code":"PHITS","E":42,"flux":1.58e-18},{"panel":"Concrete","depth":5,"code":"PHITS","E":45,"flux":1.78e-18},{"panel":"Concrete","depth":5,"code":"PHITS","E":48,"flux":1.58e-18},{"panel":"Concrete","depth":5,"code":"PHITS","E":51,"flux":1.78e-18},{"panel":"Concrete","depth":5,"code":"PHITS","E":54,"flux":1.58e-18},{"panel":"Concrete","depth":5,"code":"PHITS","E":57,"flux":1.78e-18},{"panel":"Concrete","depth":5,"code":"PHITS","E":60,"flux":1.58e-18},{"panel":"Concrete","depth":5,"code":"PHITS","E":63,"flux":1.78e-18},{"panel":"Concrete","depth":5,"code":"PHITS","E":66,"flux":1.58e-18},{"panel":"Concrete","depth":5,"code":"PHITS","E":69,"flux":2.0e-18},{"panel":"Concrete","depth":5,"code":"PHITS","E":72,"flux":1.78e-18},{"panel":"Concrete","depth":5,"code":"PHITS","E":75,"flux":2.0e-18},{"panel":"Concrete","depth":5,"code":"PHITS","E":78,"flux":1.78e-18},{"panel":"Concrete","depth":5,"code":"PHITS","E":81,"flux":2.24e-18},{"panel":"Concrete","depth":5,"code":"PHITS","E":84,"flux":2.0e-18},{"panel":"Concrete","depth":5,"code":"PHITS","E":87,"flux":2.51e-18},{"panel":"Concrete","depth":5,"code":"PHITS","E":90,"flux":2.24e-18},{"panel":"Concrete","depth":5,"code":"PHITS","E":93,"flux":2.51e-18},{"panel":"Concrete","depth":5,"code":"PHITS","E":96,"flux":2.51e-18},{"panel":"Concrete","depth":5,"code":"PHITS","E":99,"flux":2.82e-18},{"panel":"Concrete","depth":5,"code":"PHITS","E":102,"flux":2.82e-18},{"panel":"Concrete","depth":5,"code":"PHITS","E":105,"flux":3.16e-18},{"panel":"Concrete","depth":5,"code":"PHITS","E":108,"flux":3.16e-18},{"panel":"Concrete","depth":5,"code":"PHITS","E":111,"flux":3.55e-18},{"panel":"Concrete","depth":5,"code":"PHITS","E":114,"flux":3.55e-18},{"panel":"Concrete","depth":5,"code":"PHITS","E":117,"flux":3.98e-18},{"panel":"Concrete","depth":5,"code":"PHITS","E":120,"flux":3.98e-18},{"panel":"Concrete","depth":5,"code":"PHITS","E":123,"flux":2.0e-18},{"panel":"Concrete","depth":5,"code":"PHITS","E":125,"flux":2.82e-18},{"panel":"Concrete","depth":5,"code":"PHITS","E":127,"flux":1.26e-17},{"panel":"Concrete","depth":5,"code":"PHITS","E":129,"flux":6.31e-17},{"panel":"Concrete","depth":5,"code":"PHITS","E":130.5,"flux":1.12e-16},{"panel":"Concrete","depth":5,"code":"PHITS","E":132,"flux":3.98e-17},{"panel":"Concrete","depth":5,"code":"PHITS","E":133,"flux":1.58e-18},{"panel":"Concrete","depth":5,"code":"PHITS","E":134,"flux":1e-21},
{"panel":"Concrete","depth":5,"code":"MCNPX","E":-1.5,"flux":3.16e-17},{"panel":"Concrete","depth":5,"code":"MCNPX","E":2,"flux":1.78e-17},{"panel":"Concrete","depth":5,"code":"MCNPX","E":4,"flux":1e-17},{"panel":"Concrete","depth":5,"code":"MCNPX","E":7,"flux":5.62e-18},{"panel":"Concrete","depth":5,"code":"MCNPX","E":10,"flux":3.55e-18},{"panel":"Concrete","depth":5,"code":"MCNPX","E":14,"flux":2.51e-18},{"panel":"Concrete","depth":5,"code":"MCNPX","E":18,"flux":2.0e-18},{"panel":"Concrete","depth":5,"code":"MCNPX","E":21,"flux":2.0e-18},{"panel":"Concrete","depth":5,"code":"MCNPX","E":24,"flux":1.78e-18},{"panel":"Concrete","depth":5,"code":"MCNPX","E":27,"flux":2.24e-18},{"panel":"Concrete","depth":5,"code":"MCNPX","E":30,"flux":1.78e-18},{"panel":"Concrete","depth":5,"code":"MCNPX","E":33,"flux":2.24e-18},{"panel":"Concrete","depth":5,"code":"MCNPX","E":36,"flux":1.78e-18},{"panel":"Concrete","depth":5,"code":"MCNPX","E":39,"flux":2.0e-18},{"panel":"Concrete","depth":5,"code":"MCNPX","E":42,"flux":1.78e-18},{"panel":"Concrete","depth":5,"code":"MCNPX","E":45,"flux":2.24e-18},{"panel":"Concrete","depth":5,"code":"MCNPX","E":48,"flux":1.78e-18},{"panel":"Concrete","depth":5,"code":"MCNPX","E":51,"flux":2.0e-18},{"panel":"Concrete","depth":5,"code":"MCNPX","E":54,"flux":1.78e-18},{"panel":"Concrete","depth":5,"code":"MCNPX","E":57,"flux":2.24e-18},{"panel":"Concrete","depth":5,"code":"MCNPX","E":60,"flux":1.78e-18},{"panel":"Concrete","depth":5,"code":"MCNPX","E":63,"flux":2.24e-18},{"panel":"Concrete","depth":5,"code":"MCNPX","E":66,"flux":2.0e-18},{"panel":"Concrete","depth":5,"code":"MCNPX","E":69,"flux":2.24e-18},{"panel":"Concrete","depth":5,"code":"MCNPX","E":72,"flux":2.0e-18},{"panel":"Concrete","depth":5,"code":"MCNPX","E":75,"flux":2.51e-18},{"panel":"Concrete","depth":5,"code":"MCNPX","E":78,"flux":2.0e-18},{"panel":"Concrete","depth":5,"code":"MCNPX","E":81,"flux":2.51e-18},{"panel":"Concrete","depth":5,"code":"MCNPX","E":84,"flux":2.24e-18},{"panel":"Concrete","depth":5,"code":"MCNPX","E":87,"flux":2.82e-18},{"panel":"Concrete","depth":5,"code":"MCNPX","E":90,"flux":2.51e-18},{"panel":"Concrete","depth":5,"code":"MCNPX","E":93,"flux":2.82e-18},{"panel":"Concrete","depth":5,"code":"MCNPX","E":96,"flux":2.82e-18},{"panel":"Concrete","depth":5,"code":"MCNPX","E":99,"flux":3.16e-18},{"panel":"Concrete","depth":5,"code":"MCNPX","E":102,"flux":3.16e-18},{"panel":"Concrete","depth":5,"code":"MCNPX","E":105,"flux":3.55e-18},{"panel":"Concrete","depth":5,"code":"MCNPX","E":108,"flux":3.55e-18},{"panel":"Concrete","depth":5,"code":"MCNPX","E":111,"flux":3.98e-18},{"panel":"Concrete","depth":5,"code":"MCNPX","E":114,"flux":3.98e-18},{"panel":"Concrete","depth":5,"code":"MCNPX","E":117,"flux":4.47e-18},{"panel":"Concrete","depth":5,"code":"MCNPX","E":120,"flux":4.47e-18},{"panel":"Concrete","depth":5,"code":"MCNPX","E":123,"flux":2.24e-18},{"panel":"Concrete","depth":5,"code":"MCNPX","E":125,"flux":3.16e-18},{"panel":"Concrete","depth":5,"code":"MCNPX","E":127,"flux":1.41e-17},{"panel":"Concrete","depth":5,"code":"MCNPX","E":129,"flux":6.31e-17},{"panel":"Concrete","depth":5,"code":"MCNPX","E":130.5,"flux":1.12e-16},{"panel":"Concrete","depth":5,"code":"MCNPX","E":132,"flux":4.47e-17},{"panel":"Concrete","depth":5,"code":"MCNPX","E":133,"flux":1.58e-18},{"panel":"Concrete","depth":5,"code":"MCNPX","E":134,"flux":1e-21}
],
"exp": [
{"panel":"Iron","depth":1,"source":"Exp.","E":21,"flux":1.58e-11,"err":3.2e-12},{"panel":"Iron","depth":1,"source":"Exp.","E":27,"flux":1.58e-11,"err":3.2e-12},{"panel":"Iron","depth":1,"source":"Exp.","E":33,"flux":1.78e-11,"err":3.6e-12},{"panel":"Iron","depth":1,"source":"Exp.","E":39.5,"flux":1.78e-11,"err":3.6e-12},{"panel":"Iron","depth":1,"source":"Exp.","E":46,"flux":2.0e-11,"err":4e-12},{"panel":"Iron","depth":1,"source":"Exp.","E":52,"flux":2.0e-11,"err":4e-12},{"panel":"Iron","depth":1,"source":"Exp.","E":58.5,"flux":2.24e-11,"err":4.5e-12},{"panel":"Iron","depth":1,"source":"Exp.","E":71.5,"flux":2.51e-11,"err":5e-12},{"panel":"Iron","depth":1,"source":"Exp.","E":87.5,"flux":3.16e-11,"err":6.3e-12},{"panel":"Iron","depth":1,"source":"Exp.","E":104,"flux":3.55e-11,"err":7.1e-12},
{"panel":"Iron","depth":1,"source":"Exp.","E":123.5,"flux":2.82e-11},{"panel":"Iron","depth":1,"source":"Exp.","E":125,"flux":5.62e-11},{"panel":"Iron","depth":1,"source":"Exp.","E":126,"flux":1.12e-10},{"panel":"Iron","depth":1,"source":"Exp.","E":128,"flux":3.16e-10},{"panel":"Iron","depth":1,"source":"Exp.","E":130,"flux":8.91e-10},{"panel":"Iron","depth":1,"source":"Exp.","E":132,"flux":5.01e-10},{"panel":"Iron","depth":1,"source":"Exp.","E":133.3,"flux":7.08e-11},{"panel":"Iron","depth":1,"source":"Exp.","E":134.3,"flux":8.91e-12},
{"panel":"Iron","depth":2,"source":"Exp.","E":21,"flux":7.08e-13,"err":1.42e-13},{"panel":"Iron","depth":2,"source":"Exp.","E":27,"flux":7.08e-13,"err":1.42e-13},{"panel":"Iron","depth":2,"source":"Exp.","E":33,"flux":7.08e-13,"err":1.42e-13},{"panel":"Iron","depth":2,"source":"Exp.","E":39.5,"flux":7.94e-13,"err":1.59e-13},{"panel":"Iron","depth":2,"source":"Exp.","E":46,"flux":1e-12,"err":2e-13},{"panel":"Iron","depth":2,"source":"Exp.","E":52,"flux":1e-12,"err":2e-13},{"panel":"Iron","depth":2,"source":"Exp.","E":58.5,"flux":1e-12,"err":2e-13},{"panel":"Iron","depth":2,"source":"Exp.","E":71.5,"flux":1.41e-12,"err":2.8e-13},{"panel":"Iron","depth":2,"source":"Exp.","E":87.5,"flux":1.58e-12,"err":3.2e-13},{"panel":"Iron","depth":2,"source":"Exp.","E":104,"flux":2.0e-12,"err":4e-13},
{"panel":"Iron","depth":2,"source":"Exp.","E":123.5,"flux":1.12e-12},{"panel":"Iron","depth":2,"source":"Exp.","E":125,"flux":2.24e-12},{"panel":"Iron","depth":2,"source":"Exp.","E":126,"flux":4.47e-12},{"panel":"Iron","depth":2,"source":"Exp.","E":128,"flux":1.26e-11},{"panel":"Iron","depth":2,"source":"Exp.","E":130,"flux":3.55e-11},{"panel":"Iron","depth":2,"source":"Exp.","E":132,"flux":2.0e-11},{"panel":"Iron","depth":2,"source":"Exp.","E":133.3,"flux":2.82e-12},{"panel":"Iron","depth":2,"source":"Exp.","E":134.3,"flux":3.55e-13},
{"panel":"Iron","depth":3,"source":"Exp.","E":21,"flux":1.26e-14,"err":2.5e-15},{"panel":"Iron","depth":3,"source":"Exp.","E":27,"flux":1.12e-14,"err":2.2e-15},{"panel":"Iron","depth":3,"source":"Exp.","E":33,"flux":1.26e-14,"err":2.5e-15},{"panel":"Iron","depth":3,"source":"Exp.","E":39.5,"flux":1.26e-14,"err":2.5e-15},{"panel":"Iron","depth":3,"source":"Exp.","E":46,"flux":1.41e-14,"err":2.8e-15},{"panel":"Iron","depth":3,"source":"Exp.","E":52,"flux":1.41e-14,"err":2.8e-15},{"panel":"Iron","depth":3,"source":"Exp.","E":58.5,"flux":1.58e-14,"err":3.2e-15},{"panel":"Iron","depth":3,"source":"Exp.","E":71.5,"flux":2.0e-14,"err":4e-15},{"panel":"Iron","depth":3,"source":"Exp.","E":87.5,"flux":2.51e-14,"err":5e-15},{"panel":"Iron","depth":3,"source":"Exp.","E":104,"flux":2.82e-14,"err":5.6e-15},
{"panel":"Iron","depth":3,"source":"Exp.","E":123.5,"flux":2.0e-14},{"panel":"Iron","depth":3,"source":"Exp.","E":125,"flux":3.98e-14},{"panel":"Iron","depth":3,"source":"Exp.","E":126,"flux":7.94e-14},{"panel":"Iron","depth":3,"source":"Exp.","E":128,"flux":2.24e-13},{"panel":"Iron","depth":3,"source":"Exp.","E":130,"flux":6.31e-13},{"panel":"Iron","depth":3,"source":"Exp.","E":132,"flux":3.55e-13},{"panel":"Iron","depth":3,"source":"Exp.","E":133.3,"flux":5.01e-14},{"panel":"Iron","depth":3,"source":"Exp.","E":134.3,"flux":6.31e-15},
{"panel":"Iron","depth":4,"source":"Exp.","E":21,"flux":1.41e-16,"err":2.8e-17},{"panel":"Iron","depth":4,"source":"Exp.","E":27,"flux":1.41e-16,"err":2.8e-17},{"panel":"Iron","depth":4,"source":"Exp.","E":33,"flux":1.41e-16,"err":2.8e-17},{"panel":"Iron","depth":4,"source":"Exp.","E":39.5,"flux":1.41e-16,"err":2.8e-17},{"panel":"Iron","depth":4,"source":"Exp.","E":46,"flux":1.41e-16,"err":2.8e-17},{"panel":"Iron","depth":4,"source":"Exp.","E":52,"flux":1.58e-16,"err":3.2e-17},{"panel":"Iron","depth":4,"source":"Exp.","E":58.5,"flux":1.58e-16,"err":3.2e-17},{"panel":"Iron","depth":4,"source":"Exp.","E":71.5,"flux":1.78e-16,"err":3.6e-17},{"panel":"Iron","depth":4,"source":"Exp.","E":87.5,"flux":2.24e-16,"err":4.5e-17},{"panel":"Iron","depth":4,"source":"Exp.","E":104,"flux":2.51e-16,"err":5e-17},
{"panel":"Iron","depth":4,"source":"Exp.","E":123.5,"flux":1.26e-16},{"panel":"Iron","depth":4,"source":"Exp.","E":125,"flux":2.51e-16},{"panel":"Iron","depth":4,"source":"Exp.","E":126,"flux":5.01e-16},{"panel":"Iron","depth":4,"source":"Exp.","E":128,"flux":1.41e-15},{"panel":"Iron","depth":4,"source":"Exp.","E":130,"flux":3.98e-15},{"panel":"Iron","depth":4,"source":"Exp.","E":132,"flux":2.24e-15},{"panel":"Iron","depth":4,"source":"Exp.","E":133.3,"flux":3.16e-16},{"panel":"Iron","depth":4,"source":"Exp.","E":134.3,"flux":3.98e-17},
{"panel":"Iron","depth":5,"source":"Exp.","E":21,"flux":2.24e-18,"err":4.5e-19},{"panel":"Iron","depth":5,"source":"Exp.","E":27,"flux":2.0e-18,"err":4e-19},{"panel":"Iron","depth":5,"source":"Exp.","E":33,"flux":1.58e-18,"err":3.2e-19},{"panel":"Iron","depth":5,"source":"Exp.","E":39.5,"flux":1.58e-18,"err":3.2e-19},{"panel":"Iron","depth":5,"source":"Exp.","E":46,"flux":1.58e-18,"err":3.2e-19},{"panel":"Iron","depth":5,"source":"Exp.","E":52,"flux":1.58e-18,"err":3.2e-19},{"panel":"Iron","depth":5,"source":"Exp.","E":58.5,"flux":1.58e-18,"err":3.2e-19},{"panel":"Iron","depth":5,"source":"Exp.","E":71.5,"flux":1.58e-18,"err":3.2e-19},{"panel":"Iron","depth":5,"source":"Exp.","E":87.5,"flux":1.58e-18,"err":3.2e-19},{"panel":"Iron","depth":5,"source":"Exp.","E":104,"flux":1.58e-18,"err":3.2e-19},
{"panel":"Iron","depth":5,"source":"Exp.","E":123.5,"flux":1.12e-18},{"panel":"Iron","depth":5,"source":"Exp.","E":125,"flux":2.24e-18},{"panel":"Iron","depth":5,"source":"Exp.","E":126,"flux":4.47e-18},{"panel":"Iron","depth":5,"source":"Exp.","E":128,"flux":1.78e-17},{"panel":"Iron","depth":5,"source":"Exp.","E":130,"flux":3.55e-17},{"panel":"Iron","depth":5,"source":"Exp.","E":132,"flux":2.0e-17},{"panel":"Iron","depth":5,"source":"Exp.","E":133.3,"flux":2.51e-18},{"panel":"Iron","depth":5,"source":"Exp.","E":134.3,"flux":3.98e-19},
{"panel":"Concrete","depth":1,"source":"Exp.","E":21,"flux":7.94e-12,"err":1.59e-12},{"panel":"Concrete","depth":1,"source":"Exp.","E":27,"flux":7.94e-12,"err":1.59e-12},{"panel":"Concrete","depth":1,"source":"Exp.","E":33,"flux":8.91e-12,"err":1.78e-12},{"panel":"Concrete","depth":1,"source":"Exp.","E":39.5,"flux":1e-11,"err":2e-12},{"panel":"Concrete","depth":1,"source":"Exp.","E":46,"flux":1.12e-11,"err":2.2e-12},{"panel":"Concrete","depth":1,"source":"Exp.","E":52,"flux":1.26e-11,"err":2.5e-12},{"panel":"Concrete","depth":1,"source":"Exp.","E":58.5,"flux":1.41e-11,"err":2.8e-12},{"panel":"Concrete","depth":1,"source":"Exp.","E":71.5,"flux":1.58e-11,"err":3.2e-12},{"panel":"Concrete","depth":1,"source":"Exp.","E":87.5,"flux":2.24e-11,"err":4.5e-12},{"panel":"Concrete","depth":1,"source":"Exp.","E":104,"flux":2.51e-11,"err":5e-12},
{"panel":"Concrete","depth":1,"source":"Exp.","E":123.5,"flux":1.41e-11},{"panel":"Concrete","depth":1,"source":"Exp.","E":125,"flux":4.47e-11},{"panel":"Concrete","depth":1,"source":"Exp.","E":126,"flux":8.91e-11},{"panel":"Concrete","depth":1,"source":"Exp.","E":128,"flux":2.51e-10},{"panel":"Concrete","depth":1,"source":"Exp.","E":130,"flux":7.08e-10},{"panel":"Concrete","depth":1,"source":"Exp.","E":132,"flux":3.98e-10},{"panel":"Concrete","depth":1,"source":"Exp.","E":133.3,"flux":5.62e-11},{"panel":"Concrete","depth":1,"source":"Exp.","E":134.3,"flux":7.08e-12},
{"panel":"Concrete","depth":2,"source":"Exp.","E":21,"flux":2.51e-13,"err":5e-14},{"panel":"Concrete","depth":2,"source":"Exp.","E":27,"flux":2.24e-13,"err":4.5e-14},{"panel":"Concrete","depth":2,"source":"Exp.","E":33,"flux":2.51e-13,"err":5e-14},{"panel":"Concrete","depth":2,"source":"Exp.","E":39.5,"flux":3.16e-13,"err":6.3e-14},{"panel":"Concrete","depth":2,"source":"Exp.","E":46,"flux":3.55e-13,"err":7.1e-14},{"panel":"Concrete","depth":2,"source":"Exp.","E":52,"flux":3.55e-13,"err":7.1e-14},{"panel":"Concrete","depth":2,"source":"Exp.","E":58.5,"flux":3.55e-13,"err":7.1e-14},{"panel":"Concrete","depth":2,"source":"Exp.","E":71.5,"flux":5.01e-13,"err":1e-13},{"panel":"Concrete","depth":2,"source":"Exp.","E":87.5,"flux":7.08e-13,"err":1.42e-13},{"panel":"Concrete","depth":2,"source":"Exp.","E":104,"flux":1.12e-12,"err":2.2e-13},
{"panel":"Concrete","depth":2,"source":"Exp.","E":123.5,"flux":7.94e-13},{"panel":"Concrete","depth":2,"source":"Exp.","E":125,"flux":1.78e-12},{"panel":"Concrete","depth":2,"source":"Exp.","E":126,"flux":3.55e-12},{"panel":"Concrete","depth":2,"source":"Exp.","E":128,"flux":1e-11},{"panel":"Concrete","depth":2,"source":"Exp.","E":130,"flux":2.82e-11},{"panel":"Concrete","depth":2,"source":"Exp.","E":132,"flux":1.58e-11},{"panel":"Concrete","depth":2,"source":"Exp.","E":133.3,"flux":2.24e-12},{"panel":"Concrete","depth":2,"source":"Exp.","E":134.3,"flux":2.82e-13},
{"panel":"Concrete","depth":3,"source":"Exp.","E":21,"flux":5.01e-15,"err":1e-15},{"panel":"Concrete","depth":3,"source":"Exp.","E":27,"flux":4.47e-15,"err":8.9e-16},{"panel":"Concrete","depth":3,"source":"Exp.","E":33,"flux":4.47e-15,"err":8.9e-16},{"panel":"Concrete","depth":3,"source":"Exp.","E":39.5,"flux":4.47e-15,"err":8.9e-16},{"panel":"Concrete","depth":3,"source":"Exp.","E":46,"flux":4.47e-15,"err":8.9e-16},{"panel":"Concrete","depth":3,"source":"Exp.","E":52,"flux":5.01e-15,"err":1e-15},{"panel":"Concrete","depth":3,"source":"Exp.","E":58.5,"flux":5.62e-15,"err":1.12e-15},{"panel":"Concrete","depth":3,"source":"Exp.","E":71.5,"flux":6.31e-15,"err":1.26e-15},{"panel":"Concrete","depth":3,"source":"Exp.","E":87.5,"flux":1e-14,"err":2e-15},{"panel":"Concrete","depth":3,"source":"Exp.","E":104,"flux":1.58e-14,"err":3.2e-15},
{"panel":"Concrete","depth":3,"source":"Exp.","E":123.5,"flux":1.12e-14},{"panel":"Concrete","depth":3,"source":"Exp.","E":125,"flux":2.51e-14},{"panel":"Concrete","depth":3,"source":"Exp.","E":126,"flux":5.01e-14},{"panel":"Concrete","depth":3,"source":"Exp.","E":128,"flux":1.41e-13},{"panel":"Concrete","depth":3,"source":"Exp.","E":130,"flux":3.98e-13},{"panel":"Concrete","depth":3,"source":"Exp.","E":132,"flux":2.24e-13},{"panel":"Concrete","depth":3,"source":"Exp.","E":133.3,"flux":3.16e-14},{"panel":"Concrete","depth":3,"source":"Exp.","E":134.3,"flux":3.98e-15},
{"panel":"Concrete","depth":4,"source":"Exp.","E":21,"flux":1e-16,"err":2e-17},{"panel":"Concrete","depth":4,"source":"Exp.","E":27,"flux":8.91e-17,"err":1.78e-17},{"panel":"Concrete","depth":4,"source":"Exp.","E":33,"flux":8.91e-17,"err":1.78e-17},{"panel":"Concrete","depth":4,"source":"Exp.","E":39.5,"flux":7.94e-17,"err":1.59e-17},{"panel":"Concrete","depth":4,"source":"Exp.","E":46,"flux":8.91e-17,"err":1.78e-17},{"panel":"Concrete","depth":4,"source":"Exp.","E":52,"flux":8.91e-17,"err":1.78e-17},{"panel":"Concrete","depth":4,"source":"Exp.","E":58.5,"flux":1e-16,"err":2e-17},{"panel":"Concrete","depth":4,"source":"Exp.","E":71.5,"flux":1.12e-16,"err":2.2e-17},{"panel":"Concrete","depth":4,"source":"Exp.","E":87.5,"flux":1.58e-16,"err":3.2e-17},{"panel":"Concrete","depth":4,"source":"Exp.","E":104,"flux":2.0e-16,"err":4e-17},
{"panel":"Concrete","depth":4,"source":"Exp.","E":123.5,"flux":1.78e-16},{"panel":"Concrete","depth":4,"source":"Exp.","E":125,"flux":3.98e-16},{"panel":"Concrete","depth":4,"source":"Exp.","E":126,"flux":7.94e-16},{"panel":"Concrete","depth":4,"source":"Exp.","E":128,"flux":2.24e-15},{"panel":"Concrete","depth":4,"source":"Exp.","E":130,"flux":6.31e-15},{"panel":"Concrete","depth":4,"source":"Exp.","E":132,"flux":3.55e-15},{"panel":"Concrete","depth":4,"source":"Exp.","E":133.3,"flux":5.01e-16},{"panel":"Concrete","depth":4,"source":"Exp.","E":134.3,"flux":6.31e-17},
{"panel":"Concrete","depth":5,"source":"Exp.","E":21,"flux":2.24e-18,"err":4.5e-19},{"panel":"Concrete","depth":5,"source":"Exp.","E":27,"flux":2.24e-18,"err":4.5e-19},{"panel":"Concrete","depth":5,"source":"Exp.","E":33,"flux":2.24e-18,"err":4.5e-19},{"panel":"Concrete","depth":5,"source":"Exp.","E":39.5,"flux":2.24e-18,"err":4.5e-19},{"panel":"Concrete","depth":5,"source":"Exp.","E":46,"flux":2.24e-18,"err":4.5e-19},{"panel":"Concrete","depth":5,"source":"Exp.","E":52,"flux":2.24e-18,"err":4.5e-19},{"panel":"Concrete","depth":5,"source":"Exp.","E":58.5,"flux":2.24e-18,"err":4.5e-19},{"panel":"Concrete","depth":5,"source":"Exp.","E":71.5,"flux":2.24e-18,"err":4.5e-19},{"panel":"Concrete","depth":5,"source":"Exp.","E":87.5,"flux":3.16e-18,"err":6.3e-19},{"panel":"Concrete","depth":5,"source":"Exp.","E":104,"flux":3.16e-18,"err":6.3e-19},
{"panel":"Concrete","depth":5,"source":"Exp.","E":123.5,"flux":2.51e-18},{"panel":"Concrete","depth":5,"source":"Exp.","E":125,"flux":6.31e-18},{"panel":"Concrete","depth":5,"source":"Exp.","E":126,"flux":1.58e-17},{"panel":"Concrete","depth":5,"source":"Exp.","E":128,"flux":5.01e-17},{"panel":"Concrete","depth":5,"source":"Exp.","E":130,"flux":1.12e-16},{"panel":"Concrete","depth":5,"source":"Exp.","E":132,"flux":6.31e-17},{"panel":"Concrete","depth":5,"source":"Exp.","E":133.3,"flux":6.31e-18},{"panel":"Concrete","depth":5,"source":"Exp.","E":134.3,"flux":5.01e-19}
],
"notes": [
{"panel":"Iron","E":17.6,"flux":5.62e-12,"label":"10cm"},
{"panel":"Iron","E":15.7,"flux":3.55e-13,"label":"20cm x10⁻¹"},
{"panel":"Iron","E":14.4,"flux":3.55e-15,"label":"40cm x10⁻²"},
{"panel":"Iron","E":14.4,"flux":3.55e-17,"label":"70cm x10⁻³"},
{"panel":"Iron","E":13.8,"flux":3.98e-19,"label":"100cm x10⁻⁴"},
{"panel":"Concrete","E":13.2,"flux":2.82e-12,"label":"25cm"},
{"panel":"Concrete","E":12.6,"flux":8.91e-14,"label":"50cm x10⁻¹"},
{"panel":"Concrete","E":11.3,"flux":1.12e-15,"label":"100cm x10⁻²"},
{"panel":"Concrete","E":11.3,"flux":2.24e-17,"label":"150cm x10⁻³"},
{"panel":"Concrete","E":11.3,"flux":5.62e-19,"label":"200cm x10⁻⁴"}
]
},
"spacing": 5,
"resolve": {"scale": {"shape": "independent", "fill": "independent", "strokeDash": "independent"}, "legend": {"shape": "independent", "strokeDash": "independent"}},
"hconcat": [
{
  "width": 226, "height": 370,
  "title": {"text": "Iron", "fontWeight": "normal"},
  "resolve": {"axis": {"x": "independent", "y": "independent"}},
  "layer": [
    {
      "data": {"name": "lines"},
      "transform": [{"filter": "datum.panel === 'Iron'"}],
      "mark": {"type": "line", "clip": true, "strokeWidth": 1, "color": "black"},
      "encoding": {
        "x": {"field": "E", "type": "quantitative", "scale": {"domain": [-1.5, 143.5], "nice": false, "zero": false},
              "axis": {"orient": "bottom", "title": "Neutron energy (MeV)", "values": [0,3,6,9,12,15,18,21,24,27,30,33,36,39,42,45,48,51,54,57,60,63,66,69,72,75,78,81,84,87,90,93,96,99,102,105,108,111,114,117,120,123,126,129,132,135,138,141],
                       "labelExpr": "datum.value % 30 === 0 ? datum.label : ''",
                       "tickSize": {"condition": {"test": "datum.value % 30 === 0", "value": -7}, "value": -3.5},
                       "labelPadding": 10, "titlePadding": 0}},
        "y": {"field": "flux", "type": "quantitative", "scale": {"type": "log", "domain": [1e-19, 1e-8], "nice": false},
              "axis": {"orient": "left", "title": "Neutron flux [n/cm²/MeV/proton]", "labelFontSize": 15,
                       "values": [1e-19,2e-19,3e-19,4e-19,5e-19,6e-19,7e-19,8e-19,9e-19,1e-18,2e-18,3e-18,4e-18,5e-18,6e-18,7e-18,8e-18,9e-18,1e-17,2e-17,3e-17,4e-17,5e-17,6e-17,7e-17,8e-17,9e-17,1e-16,2e-16,3e-16,4e-16,5e-16,6e-16,7e-16,8e-16,9e-16,1e-15,2e-15,3e-15,4e-15,5e-15,6e-15,7e-15,8e-15,9e-15,1e-14,2e-14,3e-14,4e-14,5e-14,6e-14,7e-14,8e-14,9e-14,1e-13,2e-13,3e-13,4e-13,5e-13,6e-13,7e-13,8e-13,9e-13,1e-12,2e-12,3e-12,4e-12,5e-12,6e-12,7e-12,8e-12,9e-12,1e-11,2e-11,3e-11,4e-11,5e-11,6e-11,7e-11,8e-11,9e-11,1e-10,2e-10,3e-10,4e-10,5e-10,6e-10,7e-10,8e-10,9e-10,1e-9,2e-9,3e-9,4e-9,5e-9,6e-9,7e-9,8e-9,9e-9,1e-8],
                       "labelExpr": "abs(log(datum.value)/LN10 - round(log(datum.value)/LN10)) < 0.01 ? '10⁻' + (round(-log(datum.value)/LN10) >= 10 ? '¹' : '') + substring('⁰¹²³⁴⁵⁶⁷⁸⁹', round(-log(datum.value)/LN10) % 10, round(-log(datum.value)/LN10) % 10 + 1) : ''",
                       "tickSize": {"condition": {"test": "abs(log(datum.value)/LN10 - round(log(datum.value)/LN10)) < 0.01", "value": -7}, "value": -3.5},
                       "labelPadding": 12, "titlePadding": 0}},
        "detail": {"field": "depth", "type": "nominal"},
        "strokeDash": {"field": "code", "type": "nominal", "scale": {"domain": ["PHITS", "MCNPX"], "range": [[1, 0], [4, 2]]},
                       "legend": {"title": null, "orient": "none", "legendX": 17, "legendY": 24, "symbolType": "stroke", "symbolSize": 1100, "symbolStrokeWidth": 1.1, "symbolStrokeColor": "black", "labelOffset": 4,
                                  "labelExpr": "datum.value === 'PHITS' ? 'PHITS(JENDL-HE)' : 'MCNPX(LA150)'"}}
      }
    },
    {
      "data": {"name": "exp"},
      "transform": [{"filter": "datum.panel === 'Iron' && isValid(datum.err)"}],
      "mark": {"type": "errorbar", "color": "#444", "ticks": {"size": 6, "thickness": 1}},
      "encoding": {
        "x": {"field": "E", "type": "quantitative", "scale": {"domain": [-1.5, 143.5], "nice": false, "zero": false}, "axis": null},
        "y": {"field": "flux", "type": "quantitative", "scale": {"type": "log", "domain": [1e-19, 1e-8], "nice": false}, "axis": null},
        "yError": {"field": "err"}
      }
    },
    {
      "data": {"name": "exp"},
      "transform": [{"filter": "datum.panel === 'Iron'"}],
      "mark": {"type": "point", "filled": true, "size": 45, "opacity": 1, "clip": true},
      "encoding": {
        "x": {"field": "E", "type": "quantitative", "scale": {"domain": [-1.5, 143.5], "nice": false, "zero": false}, "axis": null},
        "y": {"field": "flux", "type": "quantitative", "scale": {"type": "log", "domain": [1e-19, 1e-8], "nice": false}, "axis": null},
        "fill": {"field": "depth", "type": "ordinal", "scale": {"domain": [1, 2, 3, 4, 5], "range": ["#7a7a7a", "#7a7a7a", "#b8b8b8", "#858585", "#000000"]}, "legend": null},
        "shape": {"field": "source", "type": "nominal", "scale": {"domain": ["Exp."], "range": ["circle"]},
                  "legend": {"title": null, "orient": "none", "legendX": 30, "legendY": 6, "symbolSize": 45, "symbolFillColor": "#7a7a7a", "symbolStrokeColor": "transparent", "symbolStrokeWidth": 0, "labelOffset": 21}}
      }
    },
    {
      "data": {"name": "notes"},
      "transform": [{"filter": "datum.panel === 'Iron'"}],
      "mark": {"type": "text", "align": "left", "baseline": "middle", "fontSize": 16},
      "encoding": {
        "x": {"field": "E", "type": "quantitative", "scale": {"domain": [-1.5, 143.5], "nice": false, "zero": false},
              "axis": {"orient": "top", "labels": false, "title": null, "values": [0,3,6,9,12,15,18,21,24,27,30,33,36,39,42,45,48,51,54,57,60,63,66,69,72,75,78,81,84,87,90,93,96,99,102,105,108,111,114,117,120,123,126,129,132,135,138,141],
                       "tickSize": {"condition": {"test": "datum.value % 30 === 0", "value": -7}, "value": -3.5}}},
        "y": {"field": "flux", "type": "quantitative", "scale": {"type": "log", "domain": [1e-19, 1e-8], "nice": false},
              "axis": {"orient": "right", "labels": false, "title": null,
                       "values": [1e-19,2e-19,3e-19,4e-19,5e-19,6e-19,7e-19,8e-19,9e-19,1e-18,2e-18,3e-18,4e-18,5e-18,6e-18,7e-18,8e-18,9e-18,1e-17,2e-17,3e-17,4e-17,5e-17,6e-17,7e-17,8e-17,9e-17,1e-16,2e-16,3e-16,4e-16,5e-16,6e-16,7e-16,8e-16,9e-16,1e-15,2e-15,3e-15,4e-15,5e-15,6e-15,7e-15,8e-15,9e-15,1e-14,2e-14,3e-14,4e-14,5e-14,6e-14,7e-14,8e-14,9e-14,1e-13,2e-13,3e-13,4e-13,5e-13,6e-13,7e-13,8e-13,9e-13,1e-12,2e-12,3e-12,4e-12,5e-12,6e-12,7e-12,8e-12,9e-12,1e-11,2e-11,3e-11,4e-11,5e-11,6e-11,7e-11,8e-11,9e-11,1e-10,2e-10,3e-10,4e-10,5e-10,6e-10,7e-10,8e-10,9e-10,1e-9,2e-9,3e-9,4e-9,5e-9,6e-9,7e-9,8e-9,9e-9,1e-8],
                       "tickSize": {"condition": {"test": "abs(log(datum.value)/LN10 - round(log(datum.value)/LN10)) < 0.01", "value": -7}, "value": -3.5}}},
        "text": {"field": "label"}
      }
    }
  ]
},
{
  "width": 227, "height": 370,
  "title": {"text": "Concrete (low activation)", "fontWeight": "normal"},
  "resolve": {"axis": {"x": "independent", "y": "independent"}},
  "layer": [
    {
      "data": {"name": "lines"},
      "transform": [{"filter": "datum.panel === 'Concrete'"}],
      "mark": {"type": "line", "clip": true, "strokeWidth": 1, "color": "black"},
      "encoding": {
        "x": {"field": "E", "type": "quantitative", "scale": {"domain": [-1.5, 143.5], "nice": false, "zero": false},
              "axis": {"orient": "bottom", "title": "Neutron energy (MeV)", "values": [0,3,6,9,12,15,18,21,24,27,30,33,36,39,42,45,48,51,54,57,60,63,66,69,72,75,78,81,84,87,90,93,96,99,102,105,108,111,114,117,120,123,126,129,132,135,138,141],
                       "labelExpr": "datum.value === 0 ? '150' : (datum.value % 30 === 0 ? datum.label : '')",
                       "tickSize": {"condition": {"test": "datum.value % 30 === 0", "value": -7}, "value": -3.5},
                       "labelPadding": 10, "titlePadding": 0}},
        "y": {"field": "flux", "type": "quantitative", "scale": {"type": "log", "domain": [1e-19, 1e-8], "nice": false},
              "axis": {"orient": "left", "title": null, "labels": false,
                       "values": [1e-19,2e-19,3e-19,4e-19,5e-19,6e-19,7e-19,8e-19,9e-19,1e-18,2e-18,3e-18,4e-18,5e-18,6e-18,7e-18,8e-18,9e-18,1e-17,2e-17,3e-17,4e-17,5e-17,6e-17,7e-17,8e-17,9e-17,1e-16,2e-16,3e-16,4e-16,5e-16,6e-16,7e-16,8e-16,9e-16,1e-15,2e-15,3e-15,4e-15,5e-15,6e-15,7e-15,8e-15,9e-15,1e-14,2e-14,3e-14,4e-14,5e-14,6e-14,7e-14,8e-14,9e-14,1e-13,2e-13,3e-13,4e-13,5e-13,6e-13,7e-13,8e-13,9e-13,1e-12,2e-12,3e-12,4e-12,5e-12,6e-12,7e-12,8e-12,9e-12,1e-11,2e-11,3e-11,4e-11,5e-11,6e-11,7e-11,8e-11,9e-11,1e-10,2e-10,3e-10,4e-10,5e-10,6e-10,7e-10,8e-10,9e-10,1e-9,2e-9,3e-9,4e-9,5e-9,6e-9,7e-9,8e-9,9e-9,1e-8],
                       "tickSize": {"condition": {"test": "abs(log(datum.value)/LN10 - round(log(datum.value)/LN10)) < 0.01", "value": -7}, "value": -3.5}}},
        "detail": {"field": "depth", "type": "nominal"},
        "strokeDash": {"field": "code", "type": "nominal", "scale": {"domain": ["PHITS", "MCNPX"], "range": [[1, 0], [4, 2]]},
                       "legend": {"title": null, "orient": "none", "legendX": 17, "legendY": 24, "symbolType": "stroke", "symbolSize": 1100, "symbolStrokeWidth": 1.1, "symbolStrokeColor": "black", "labelOffset": 4,
                                  "labelExpr": "datum.value === 'PHITS' ? 'PHITS (JENDL-HE)' : 'MCNPX (LA150)'"}}
      }
    },
    {
      "data": {"name": "exp"},
      "transform": [{"filter": "datum.panel === 'Concrete' && isValid(datum.err)"}],
      "mark": {"type": "errorbar", "color": "#444", "ticks": {"size": 6, "thickness": 1}},
      "encoding": {
        "x": {"field": "E", "type": "quantitative", "scale": {"domain": [-1.5, 143.5], "nice": false, "zero": false}, "axis": null},
        "y": {"field": "flux", "type": "quantitative", "scale": {"type": "log", "domain": [1e-19, 1e-8], "nice": false}, "axis": null},
        "yError": {"field": "err"}
      }
    },
    {
      "data": {"name": "exp"},
      "transform": [{"filter": "datum.panel === 'Concrete'"}],
      "mark": {"type": "point", "filled": true, "size": 45, "opacity": 1, "clip": true},
      "encoding": {
        "x": {"field": "E", "type": "quantitative", "scale": {"domain": [-1.5, 143.5], "nice": false, "zero": false}, "axis": null},
        "y": {"field": "flux", "type": "quantitative", "scale": {"type": "log", "domain": [1e-19, 1e-8], "nice": false}, "axis": null},
        "fill": {"field": "depth", "type": "ordinal", "scale": {"domain": [1, 2, 3, 4, 5], "range": ["#7a7a7a", "#7a7a7a", "#b8b8b8", "#858585", "#000000"]}, "legend": null},
        "shape": {"field": "source", "type": "nominal", "scale": {"domain": ["Exp."], "range": ["circle"]},
                  "legend": {"title": null, "orient": "none", "legendX": 30, "legendY": 6, "symbolSize": 45, "symbolFillColor": "#7a7a7a", "symbolStrokeColor": "transparent", "symbolStrokeWidth": 0, "labelOffset": 21}}
      }
    },
    {
      "data": {"name": "notes"},
      "transform": [{"filter": "datum.panel === 'Concrete'"}],
      "mark": {"type": "text", "align": "left", "baseline": "middle", "fontSize": 16},
      "encoding": {
        "x": {"field": "E", "type": "quantitative", "scale": {"domain": [-1.5, 143.5], "nice": false, "zero": false},
              "axis": {"orient": "top", "labels": false, "title": null, "values": [0,3,6,9,12,15,18,21,24,27,30,33,36,39,42,45,48,51,54,57,60,63,66,69,72,75,78,81,84,87,90,93,96,99,102,105,108,111,114,117,120,123,126,129,132,135,138,141],
                       "tickSize": {"condition": {"test": "datum.value % 30 === 0", "value": -7}, "value": -3.5}}},
        "y": {"field": "flux", "type": "quantitative", "scale": {"type": "log", "domain": [1e-19, 1e-8], "nice": false},
              "axis": {"orient": "right", "labels": false, "title": null,
                       "values": [1e-19,2e-19,3e-19,4e-19,5e-19,6e-19,7e-19,8e-19,9e-19,1e-18,2e-18,3e-18,4e-18,5e-18,6e-18,7e-18,8e-18,9e-18,1e-17,2e-17,3e-17,4e-17,5e-17,6e-17,7e-17,8e-17,9e-17,1e-16,2e-16,3e-16,4e-16,5e-16,6e-16,7e-16,8e-16,9e-16,1e-15,2e-15,3e-15,4e-15,5e-15,6e-15,7e-15,8e-15,9e-15,1e-14,2e-14,3e-14,4e-14,5e-14,6e-14,7e-14,8e-14,9e-14,1e-13,2e-13,3e-13,4e-13,5e-13,6e-13,7e-13,8e-13,9e-13,1e-12,2e-12,3e-12,4e-12,5e-12,6e-12,7e-12,8e-12,9e-12,1e-11,2e-11,3e-11,4e-11,5e-11,6e-11,7e-11,8e-11,9e-11,1e-10,2e-10,3e-10,4e-10,5e-10,6e-10,7e-10,8e-10,9e-10,1e-9,2e-9,3e-9,4e-9,5e-9,6e-9,7e-9,8e-9,9e-9,1e-8],
                       "tickSize": {"condition": {"test": "abs(log(datum.value)/LN10 - round(log(datum.value)/LN10)) < 0.01", "value": -7}, "value": -3.5}}},
        "text": {"field": "label"}
      }
    },
    {
      "data": {"values": [{"E": 150, "flux": 1e-19, "label": "150"}]},
      "mark": {"type": "text", "align": "center", "baseline": "top", "dy": 3, "fontSize": 16, "clip": false},
      "encoding": {
        "x": {"field": "E", "type": "quantitative", "scale": {"domain": [-1.5, 143.5], "nice": false, "zero": false}, "axis": null},
        "y": {"field": "flux", "type": "quantitative", "scale": {"type": "log", "domain": [1e-19, 1e-8], "nice": false}, "axis": null},
        "text": {"field": "label"}
      }
    }
  ]
}
]
}
